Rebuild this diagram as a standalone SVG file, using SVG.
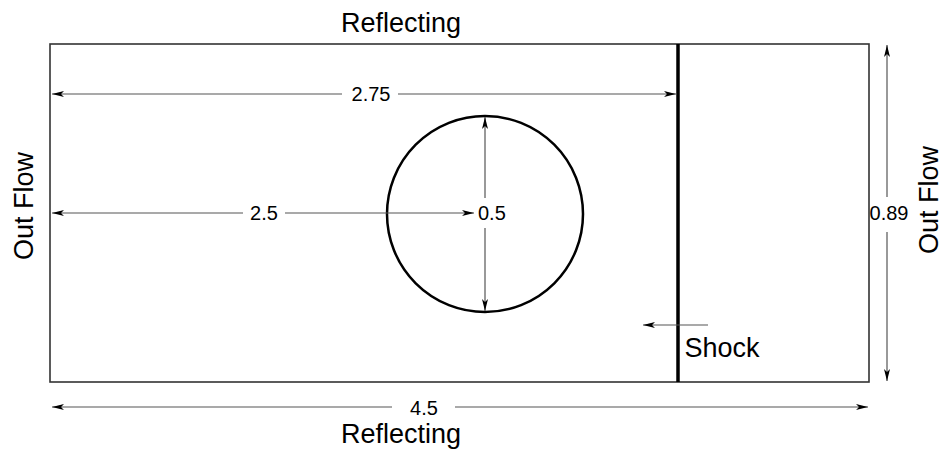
<svg xmlns="http://www.w3.org/2000/svg" width="950" height="449" viewBox="0 0 950 449">
<defs>
<marker id="ah" viewBox="0 0 12 6" refX="12" refY="3" markerWidth="12" markerHeight="6" markerUnits="userSpaceOnUse" orient="auto-start-reverse">
<path d="M0,0 L12,3 L0,6 L3,3 Z" fill="#000"/>
</marker>
</defs>
<style>
.t{font-family:"Liberation Sans",Arial,sans-serif;fill:#000}
.lbl{font-size:27px}
.num{font-size:20px}
.dim{stroke:#555;stroke-width:1.2;fill:none}
</style>
<rect width="950" height="449" fill="#fff"/>
<g id="domain">
<rect x="50" y="44" width="819" height="338" fill="none" stroke="#333" stroke-width="1.6"/>
</g>
<g id="shock-line">
<line x1="678" y1="44" x2="678" y2="382" stroke="#000" stroke-width="3.5"/>
</g>
<g id="cylinder">
<circle cx="485" cy="214" r="98" fill="none" stroke="#000" stroke-width="2.5"/>
</g>
<g id="connectors">
<line class="dim" x1="52" y1="94" x2="342" y2="94" marker-start="url(#ah)"/>
<line class="dim" x1="398" y1="94" x2="676" y2="94" marker-end="url(#ah)"/>
<line class="dim" x1="52" y1="213" x2="243" y2="213" marker-start="url(#ah)"/>
<line class="dim" x1="285" y1="213" x2="474" y2="213" marker-end="url(#ah)"/>
<line class="dim" x1="485" y1="198" x2="485" y2="117" marker-end="url(#ah)"/>
<line class="dim" x1="485" y1="228" x2="485" y2="311" marker-end="url(#ah)"/>
<line class="dim" x1="887" y1="197" x2="887" y2="45" marker-end="url(#ah)"/>
<line class="dim" x1="887" y1="232" x2="887" y2="381" marker-end="url(#ah)"/>
<line class="dim" x1="708" y1="325" x2="643" y2="325" marker-end="url(#ah)"/>
<line class="dim" x1="52" y1="407" x2="392" y2="407" marker-start="url(#ah)"/>
<line class="dim" x1="455" y1="407" x2="868" y2="407" marker-end="url(#ah)"/>
</g>
<g id="labels">
<text class="t lbl" x="401" y="32" text-anchor="middle">Reflecting</text>
<text class="t lbl" x="401" y="443" text-anchor="middle">Reflecting</text>
<text class="t lbl" x="722" y="357" text-anchor="middle">Shock</text>
<text class="t lbl" transform="translate(33,206) rotate(-90)" text-anchor="middle">Out Flow</text>
<text class="t lbl" transform="translate(938,200) rotate(-90)" text-anchor="middle">Out Flow</text>
<text class="t num" x="371" y="101" text-anchor="middle">2.75</text>
<text class="t num" x="264" y="220" text-anchor="middle">2.5</text>
<text class="t num" x="478" y="220">0.5</text>
<text class="t num" x="889" y="220" text-anchor="middle">0.89</text>
<text class="t num" x="424" y="415" text-anchor="middle">4.5</text>
</g>
</svg>
